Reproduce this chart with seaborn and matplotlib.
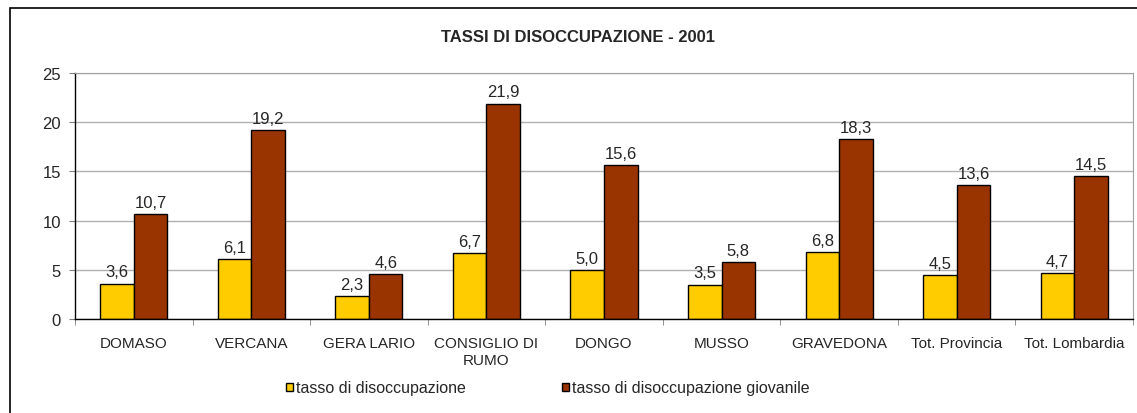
import matplotlib
matplotlib.use("Agg")
from matplotlib import pyplot as plt
from matplotlib.patches import Rectangle
import pandas as pd
import seaborn as sns

# dati
comuni = ['DOMASO', 'VERCANA', 'GERA LARIO', 'CONSIGLIO DI\nRUMO', 'DONGO',
          'MUSSO', 'GRAVEDONA', 'Tot. Provincia', 'Tot. Lombardia']
tasso = [3.6, 6.1, 2.3, 6.7, 5.0, 3.5, 6.8, 4.5, 4.7]
tasso_giovanile = [10.7, 19.2, 4.6, 21.9, 15.6, 5.8, 18.3, 13.6, 14.5]
serie = ['tasso di disoccupazione', 'tasso di disoccupazione giovanile']
colori = ['#FFCC00', '#993300']

df = pd.DataFrame({
    'comune': comuni * 2,
    'valore': tasso + tasso_giovanile,
    'serie': [serie[0]] * len(comuni) + [serie[1]] * len(comuni),
})

sns.set_style('white')
plt.rcParams['font.family'] = ['Liberation Sans', 'DejaVu Sans']

fig = plt.figure(figsize=(11.37, 4.14), dpi=100)
ax = fig.add_axes([75 / 1137, 94 / 414, 1058 / 1137, 246 / 414])

sns.barplot(data=df, x='comune', y='valore', hue='serie', palette=colori,
            width=0.57, edgecolor='black', linewidth=1, ax=ax, saturation=1)

for cont in ax.containers:
    labels = [f'{b.get_height():.1f}'.replace('.', ',') for b in cont]
    ax.bar_label(cont, labels=labels, padding=3, fontsize=12)

ax.set_ylim(0, 25)
ax.set_yticks(range(0, 26, 5))
ax.set_xlim(-0.5, len(comuni) - 0.5)
ax.set_xlabel('')
ax.set_ylabel('')
ax.yaxis.grid(True, color='#B0B0B0', linewidth=1)
ax.set_axisbelow(True)

ax.tick_params(axis='y', labelsize=12, length=4, color='#808080', left=True, pad=6)
ax.tick_params(axis='x', labelsize=11, bottom=False, pad=9)
# trattini tra le categorie
ax.set_xticks([i + 0.5 for i in range(-1, len(comuni))], minor=True)
ax.tick_params(axis='x', which='minor', bottom=True, length=4, color='#808080')

for s in ['top', 'right']:
    ax.spines[s].set_color('#A0A0A0')
for s in ['left', 'bottom']:
    ax.spines[s].set_color('black')
    ax.spines[s].set_linewidth(1)

fig.text(578 / 1137, 1 - 37 / 414, 'TASSI DI DISOCCUPAZIONE - 2001', ha='center',
         va='center', fontsize=12, fontweight='bold')

ax.legend_.remove()
handles = [Rectangle((0, 0), 1, 1, facecolor=c, edgecolor='black', linewidth=1) for c in colori]
fig.legend(handles, serie, loc='center', bbox_to_anchor=(0.482, 25 / 414), ncol=2,
           frameon=False, fontsize=11.5, handlelength=0.45, handleheight=0.45,
           handletextpad=0.2, columnspacing=6.0)

fig.patches.append(Rectangle((10 / 1137, -0.05), 1.2, 1 - 9 / 414 + 0.05,
                             transform=fig.transFigure, fill=False,
                             edgecolor='black', linewidth=1.2, figure=fig))

fig.savefig('out.png', dpi=100)
